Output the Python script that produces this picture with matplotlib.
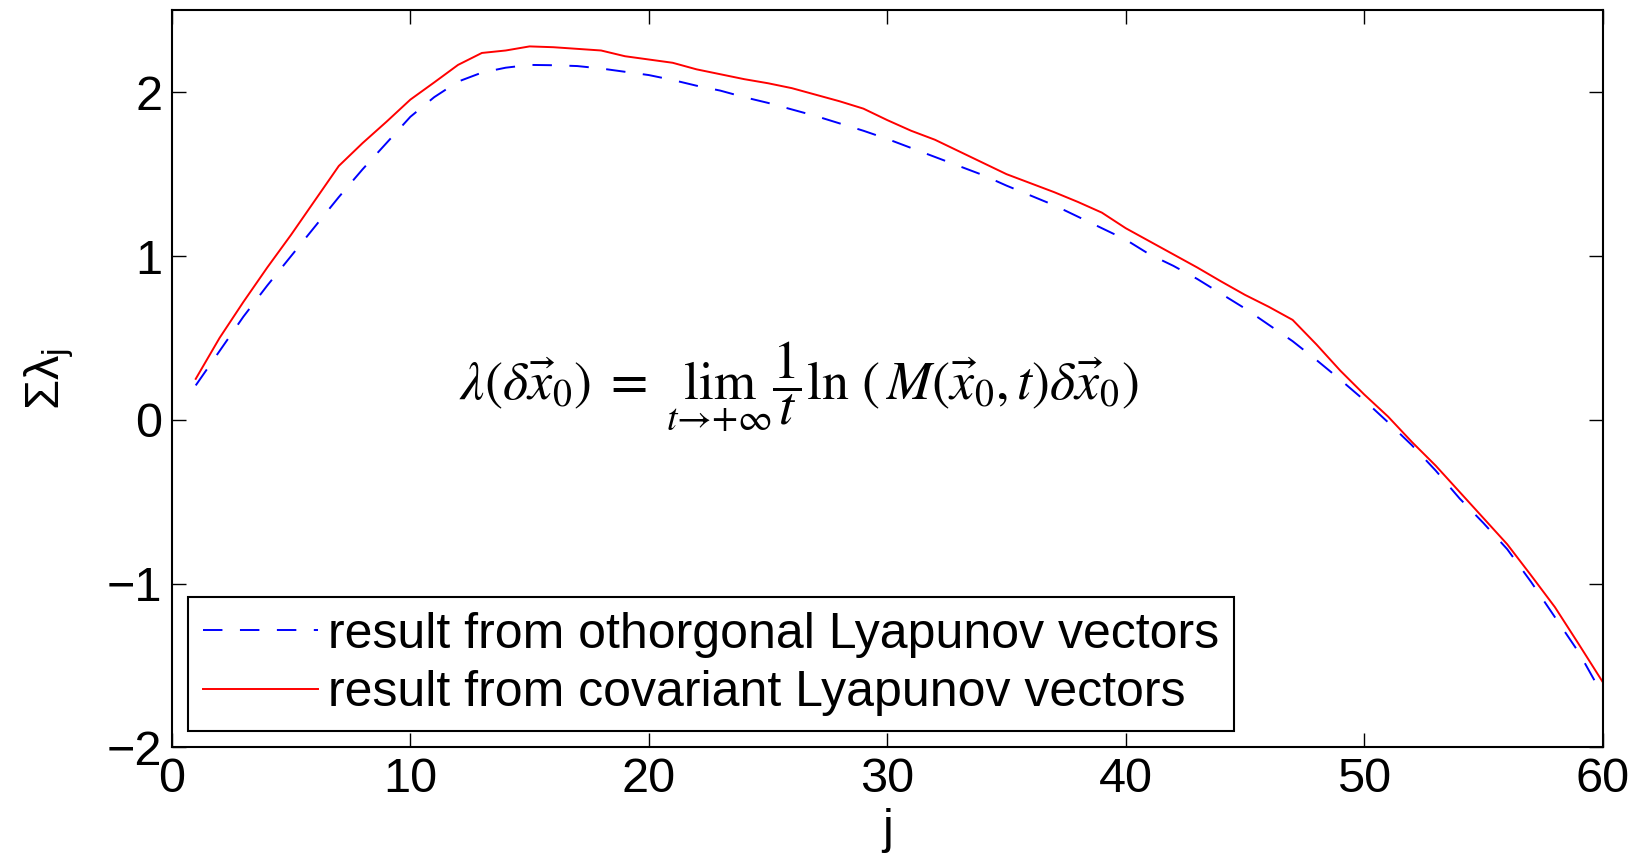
import matplotlib
matplotlib.use('Agg')
import matplotlib.pyplot as plt
import numpy as np

# summed exponents vs. index j
j = np.arange(1, 61)

sum_orth = [0.21, 0.42, 0.63, 0.82, 1.00, 1.18, 1.36, 1.53, 1.69, 1.85,
            1.97, 2.065, 2.12, 2.15, 2.167, 2.165, 2.16, 2.145, 2.125, 2.105,
            2.075, 2.04, 2.01, 1.97, 1.935, 1.895, 1.855, 1.81, 1.765, 1.715,
            1.66, 1.605, 1.55, 1.495, 1.43, 1.37, 1.31, 1.24, 1.17, 1.10,
            1.01, 0.94, 0.86, 0.77, 0.68, 0.58, 0.48, 0.365, 0.245, 0.12,
            -0.015, -0.155, -0.31, -0.48, -0.63, -0.79, -0.99, -1.205, -1.42, -1.68]

sum_cov = [0.25, 0.50, 0.72, 0.93, 1.13, 1.34, 1.55, 1.69, 1.82, 1.955,
           2.06, 2.167, 2.24, 2.255, 2.28, 2.275, 2.265, 2.255, 2.22, 2.20,
           2.18, 2.14, 2.11, 2.08, 2.055, 2.025, 1.985, 1.945, 1.90, 1.83,
           1.765, 1.71, 1.64, 1.57, 1.50, 1.445, 1.39, 1.33, 1.265, 1.17,
           1.09, 1.01, 0.93, 0.845, 0.763, 0.69, 0.61, 0.46, 0.30, 0.155,
           0.02, -0.135, -0.28, -0.44, -0.60, -0.76, -0.95, -1.144, -1.37, -1.60]

x_ticks = [0, 10, 20, 30, 40, 50, 60]
y_ticks = [-2, -1, 0, 1, 2]

plt.rcParams['font.family'] = 'Liberation Sans'
plt.rcParams['mathtext.fontset'] = 'custom'
plt.rcParams['mathtext.rm'] = 'Liberation Sans'
plt.rcParams['mathtext.it'] = 'Liberation Sans'

fig = plt.figure(figsize=(16.37, 8.64), dpi=100)
ax = fig.add_axes([0.105, 0.135, 0.874, 0.853])

ax.plot(j, sum_orth, color='blue', lw=1.4, linestyle=(0, (10, 9)),
        label='result from othorgonal Lyapunov vectors')
ax.plot(j, sum_cov, color='red', lw=1.4,
        label='result from covariant Lyapunov vectors')

ax.set_xlim(0, 60)
ax.set_ylim(-2, 2.5)
ax.set_xticks(x_ticks)
ax.set_yticks(y_ticks)
ax.set_yticklabels(['\u22122', '\u22121', '0', '1', '2'])
ax.tick_params(direction='in', length=10, width=1, top=True, right=True,
               labelsize=35, pad=7)
for sp in ax.spines.values():
    sp.set_linewidth(1.5)

ax.set_xlabel('j', fontsize=35, labelpad=4)
ax.set_ylabel(r'$\Sigma\lambda_{\mathrm{j}}$', fontsize=35, labelpad=22)

# definition of the exponent, drawn in a serif math face
ax.text(26.3, 0.2,
        r'$\lambda(\delta\vec{x}_0)\;=\;\lim_{t\to+\infty}\dfrac{1}{t}\ln\,(\,M(\vec{x}_0,t)\delta\vec{x}_0)$',
        fontsize=39, ha='center', va='center', math_fontfamily='stix')

leg = ax.legend(loc='lower left', bbox_to_anchor=(0.011, 0.022), fontsize=36,
                handlelength=2.3, handletextpad=0.2, borderpad=0.3,
                labelspacing=0.25, fancybox=False, framealpha=1,
                edgecolor='black', borderaxespad=0)
leg.get_frame().set_linewidth(1.5)

fig.savefig('out.png', dpi=100)
